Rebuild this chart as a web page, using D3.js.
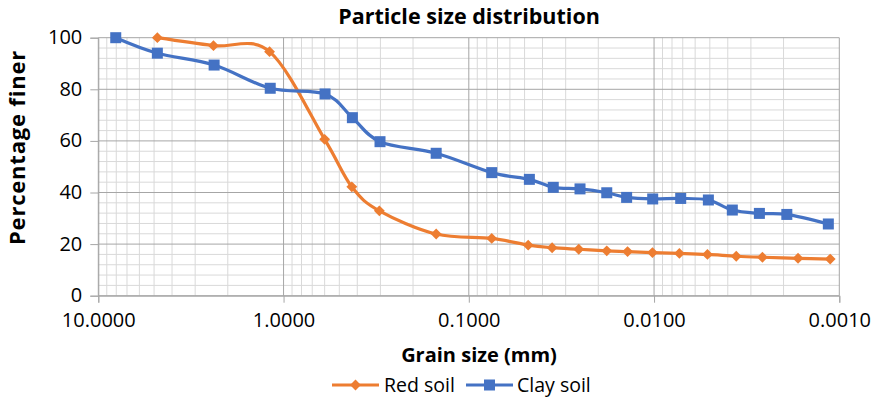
<!DOCTYPE html>
<html>
<head>
<meta charset="utf-8">
<script src="https://cdn.jsdelivr.net/npm/d3@7"></script>
<style>
  body { margin: 0; background: #fff; }
  svg { font-family: "Open Sans", sans-serif; }
</style>
</head>
<body>
<div id="chart"></div>
<script>
// grain sizes (mm) and percentage finer
const redSize = [4.80, 2.39, 1.19, 0.600, 0.428, 0.304, 0.150, 0.0752, 0.0478, 0.0355,
  0.0255, 0.0180, 0.0139, 0.0102, 0.0073, 0.00515, 0.0036, 0.0026, 0.00167, 0.00112];
const redFiner = [100, 96.9, 94.6, 60.6, 42.2, 32.9, 23.9, 22.2, 19.6, 18.6,
  18.0, 17.4, 17.1, 16.7, 16.4, 16.0, 15.3, 14.9, 14.5, 14.2];

const claySize = [8.05, 4.80, 2.37, 1.18, 0.597, 0.425, 0.3015, 0.150, 0.0752, 0.0471,
  0.0350, 0.0251, 0.0180, 0.01406, 0.01017, 0.00718, 0.00509, 0.00378, 0.0027, 0.00192, 0.001146];
const clayFiner = [100, 94.0, 89.4, 80.4, 78.2, 69.0, 59.7, 55.2, 47.7, 45.1,
  42.0, 41.4, 39.9, 38.1, 37.5, 37.7, 37.1, 33.2, 31.9, 31.5, 27.8];

const xTickValues = [10, 1, 0.1, 0.01, 0.001];
const yTickValues = [0, 20, 40, 60, 80, 100];

const width = 879;
const height = 400;

const svg = d3.select("#chart")
  .append("svg")
  .attr("width", width)
  .attr("height", height);

const x = d3.scaleLog().domain([10, 0.001]).range([98.3, 839.3]);
const y = d3.scaleLinear().domain([0, 100]).range([295.7, 37.7]);

// minor + major grid
const minorX = [];
[1, 0.1, 0.01, 0.001].forEach((d) => {
  for (let k = 2; k <= 9; k++) minorX.push(d * k);
});
const minorY = d3.range(0, 101, 4).filter((v) => v % 20 !== 0);

const grid = svg.append("g");
grid.selectAll(".minx").data(minorX).enter().append("line")
  .attr("x1", (d) => x(d)).attr("x2", (d) => x(d))
  .attr("y1", y(0)).attr("y2", y(100))
  .attr("stroke", "#d9d9d9").attr("stroke-width", 1);
grid.selectAll(".miny").data(minorY).enter().append("line")
  .attr("x1", x(10)).attr("x2", x(0.001))
  .attr("y1", (d) => y(d)).attr("y2", (d) => y(d))
  .attr("stroke", "#d9d9d9").attr("stroke-width", 1);
grid.selectAll(".majx").data(xTickValues).enter().append("line")
  .attr("x1", (d) => x(d)).attr("x2", (d) => x(d))
  .attr("y1", y(0)).attr("y2", y(100))
  .attr("stroke", "#a6a6a6").attr("stroke-width", 1);
grid.selectAll(".majy").data(yTickValues).enter().append("line")
  .attr("x1", x(10)).attr("x2", x(0.001))
  .attr("y1", (d) => y(d)).attr("y2", (d) => y(d))
  .attr("stroke", "#a6a6a6").attr("stroke-width", 1);

// axes
const xAxis = svg.append("g")
  .attr("transform", `translate(0,${y(0)})`)
  .call(d3.axisBottom(x).tickValues(xTickValues).tickSize(7).tickPadding(10)
    .tickFormat(d3.format(".4f")));
const yAxis = svg.append("g")
  .attr("transform", `translate(${x(10)},0)`)
  .call(d3.axisLeft(y).tickValues(yTickValues).tickSize(8).tickPadding(8));

[xAxis, yAxis].forEach((ax) => {
  ax.select(".domain").attr("stroke", "#a6a6a6");
  ax.selectAll(".tick line").attr("stroke", "#a6a6a6");
  ax.selectAll("text").attr("font-size", 20).attr("fill", "#000")
    .attr("font-family", "'Open Sans', sans-serif");
});
yAxis.selectAll("text").attr("dy", "0.3em");

// series
const line = d3.line()
  .x((d) => x(d[0]))
  .y((d) => y(d[1]))
  .curve(d3.curveCardinal.tension(0));

const redData = redSize.map((s, i) => [s, redFiner[i]]);
const clayData = claySize.map((s, i) => [s, clayFiner[i]]);

const orange = "#ED7D31";
const blue = "#4472C4";

svg.append("path").datum(redData).attr("d", line)
  .attr("fill", "none").attr("stroke", orange).attr("stroke-width", 3.2);
svg.append("path").datum(clayData).attr("d", line)
  .attr("fill", "none").attr("stroke", blue).attr("stroke-width", 3.2);

const diamond = d3.symbol().type(d3.symbolDiamond2).size(75);
svg.selectAll(".redpt").data(redData).enter().append("path")
  .attr("d", diamond)
  .attr("transform", (d) => `translate(${x(d[0])},${y(d[1])})`)
  .attr("fill", orange);

svg.selectAll(".claypt").data(clayData).enter().append("rect")
  .attr("x", (d) => x(d[0]) - 5.5)
  .attr("y", (d) => y(d[1]) - 5.5)
  .attr("width", 11).attr("height", 11)
  .attr("fill", blue);

// titles
svg.append("text")
  .attr("x", 469).attr("y", 24)
  .attr("text-anchor", "middle")
  .attr("font-size", 21.5).attr("font-weight", "bold")
  .text("Particle size distribution");

svg.append("text")
  .attr("x", 479).attr("y", 362)
  .attr("text-anchor", "middle")
  .attr("font-size", 20).attr("font-weight", "bold")
  .text("Grain size (mm)");

svg.append("text")
  .attr("transform", "translate(25,147.5) rotate(-90)")
  .attr("text-anchor", "middle")
  .attr("font-size", 22).attr("font-weight", "bold")
  .attr("letter-spacing", 0.8)
  .text("Percentage finer");

// legend
const legend = svg.append("g").attr("transform", "translate(0,385)");
legend.append("line").attr("x1", 332).attr("x2", 379).attr("y1", 0).attr("y2", 0)
  .attr("stroke", orange).attr("stroke-width", 3.2);
legend.append("path").attr("d", diamond).attr("transform", "translate(355.5,0)")
  .attr("fill", orange);
legend.append("text").attr("x", 384).attr("y", 6.5).attr("font-size", 19.5)
  .text("Red soil");
legend.append("line").attr("x1", 466).attr("x2", 513).attr("y1", 0).attr("y2", 0)
  .attr("stroke", blue).attr("stroke-width", 3.2);
legend.append("rect").attr("x", 484).attr("y", -5.5).attr("width", 11).attr("height", 11)
  .attr("fill", blue);
legend.append("text").attr("x", 517).attr("y", 6.5).attr("font-size", 19.5)
  .text("Clay soil");
</script>
</body>
</html>
